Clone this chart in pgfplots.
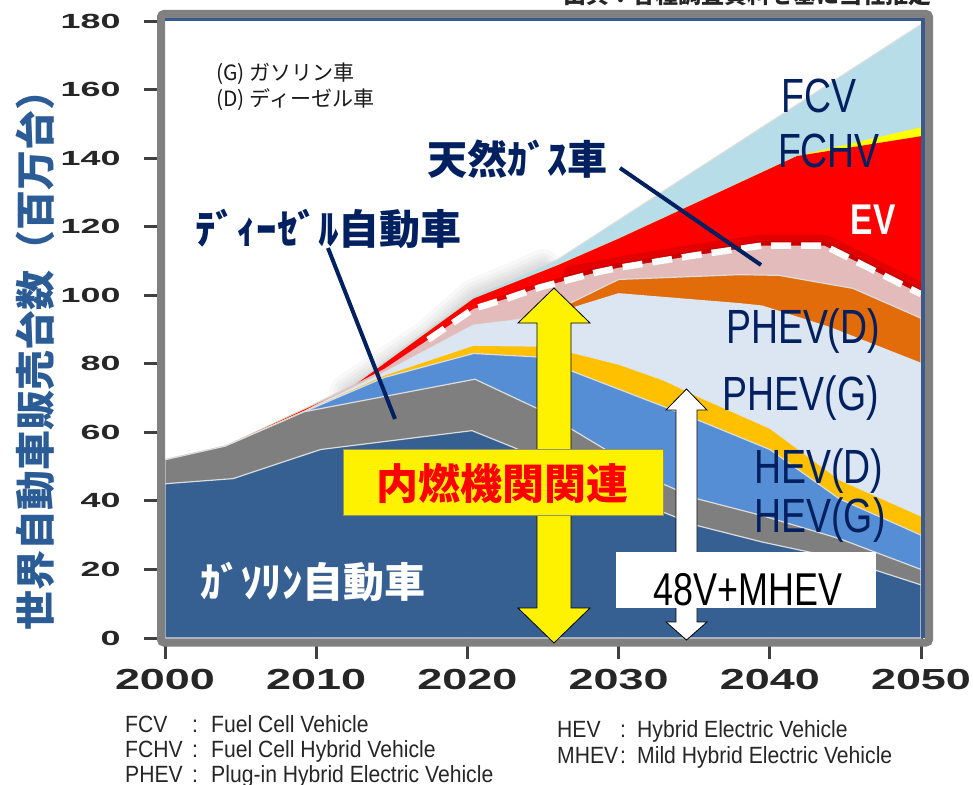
\documentclass[border=0pt]{standalone}
\usepackage{pgfplots}
\pgfplotsset{compat=1.18}
\usepackage{fontspec}
\setmainfont{Liberation Sans}
\newfontfamily\jp{Noto Sans CJK JP}
\newfontfamily\cond[FakeStretch=0.78]{Liberation Sans}
\newfontfamily\notef[FakeStretch=0.9]{Liberation Sans}
\newfontfamily\ytf[FakeStretch=1.75]{Liberation Sans}
\newfontfamily\xtf[FakeStretch=1.55]{Liberation Sans}
\newcommand\fs[1]{\fontsize{#1bp}{#1bp}\selectfont}
\definecolor{cFCV}{HTML}{B7DDE8}
\definecolor{cFCHV}{HTML}{FFFF00}
\definecolor{cEV}{HTML}{FF0000}
\definecolor{cNG}{HTML}{E4BBBB}
\definecolor{cPD}{HTML}{E36C0A}
\definecolor{cPG}{HTML}{DCE6F2}
\definecolor{cHD}{HTML}{FFC000}
\definecolor{cHG}{HTML}{558ED5}
\definecolor{cDI}{HTML}{7F7F7F}
\definecolor{cGA}{HTML}{376092}
\definecolor{cLine}{HTML}{DCDCDC}
\definecolor{navy}{HTML}{002060}
\definecolor{ylab}{HTML}{2B5C95}
\definecolor{frameGray}{HTML}{808080}
\definecolor{frameBlue}{HTML}{3A5A8C}
\pgfplotsset{glow/.style={draw=black, opacity=0.028, line width=#1, line cap=round, line join=round}}
\begin{document}
\begin{tikzpicture}
\begin{axis}[
  at={(165bp,-638bp)}, anchor=south west,
  scale only axis, width=756bp, height=617bp,
  xmin=2000, xmax=2050, ymin=0, ymax=180,
  axis line style={draw=none},
  xtick={2000,2010,2020,2030,2040,2050},
  xticklabels={2000,2010,2020,2030,2040,2050},
  ytick={0,20,40,60,80,100,120,140,160,180},
  yticklabels={0,20,40,60,80,100,120,140,160,180},
  xtick pos=bottom, ytick pos=left,
  tick align=outside,
  major tick length=21bp,
  tick style={line width=3bp, color=black!75},
  xticklabel style={font=\xtf\bfseries\fs{29}, text=black!85, yshift=-7bp},
  yticklabel style={font=\ytf\bfseries\fs{20.5}, text=black!85, xshift=-20bp},
]
% soft shadow along the top envelope
\addplot[glow=34bp] coordinates {(2012,72) (2014,78) (2017.4,88) (2020.4,99.8) (2023,104.6) (2025,108.5)};
\addplot[glow=26bp] coordinates {(2012,72) (2014,78) (2017.4,88) (2020.4,99.8) (2023,104.6) (2025,108.5)};
\addplot[glow=19bp] coordinates {(2012,72) (2014,78) (2017.4,88) (2020.4,99.8) (2023,104.6) (2025,108.5)};
\addplot[glow=13bp] coordinates {(2012,72) (2014,78) (2017.4,88) (2020.4,99.8) (2023,104.6) (2025,108.5)};
\addplot[glow=8bp] coordinates {(2012,72) (2014,78) (2017.4,88) (2020.4,99.8) (2023,104.6) (2025,108.5)};
% FCV
\addplot[fill=cFCV, draw=cLine, line width=1.2bp] coordinates {(2000,52) (2004,56) (2009.2,66.8) (2012.3,73.5) (2020.4,99.8) (2026,110.5) (2050,179)} \closedcycle;
% FCHV
\addplot[fill=cFCHV, draw=none] coordinates {(2000,52) (2004,56) (2009.2,66.6) (2012.3,73) (2020.4,99) (2026,108.8) (2030,116.5) (2035.4,127.5) (2041.8,140.6) (2050,149)} \closedcycle;
% EV
\addplot[fill=cEV, draw=none] coordinates {(2000,52) (2004,56) (2009.2,66.6) (2012.3,73) (2020.4,99) (2026,108.8) (2030,116.5) (2035.4,127.5) (2041.8,140.6) (2050,146.4)} \closedcycle;
% dark red glow above natural gas
\addplot[draw=red!55!black, opacity=0.25, line width=22bp, line join=round, line cap=round] coordinates {(2027,105.5) (2028.6,106.7) (2030,108) (2035,111.6) (2039.5,114.5) (2043.6,114.5) (2050,100.3)};
\addplot[draw=red!55!black, opacity=0.3, line width=9bp, line join=round, line cap=round] coordinates {(2022,98) (2024.8,102.3) (2028.6,106.7) (2030,108) (2035,111.6) (2039.5,114.5) (2043.6,114.5) (2050,100.3)};
% natural gas
\addplot[fill=cNG, draw=none] coordinates {(2000,52) (2004,56) (2009.2,66.3) (2014.5,78.5) (2017.4,87) (2020.4,96) (2022.6,99) (2024.8,102.3) (2028.6,106.7) (2030,108) (2035,111.6) (2039.5,114.5) (2043.6,114.5) (2050,100.3)} \closedcycle;
% PHEV(D)
\addplot[fill=cPD, draw=cLine, line width=1.2bp] coordinates {(2000,52) (2004,56) (2009.2,66) (2014.5,77.5) (2020.4,91.3) (2025,93.8) (2030,104.6) (2038,106) (2040.6,105.8) (2045.5,102) (2050,93.3)} \closedcycle;
% PHEV(G)
\addplot[fill=cPG, draw=none] coordinates {(2000,52) (2004,56) (2009.2,66) (2014.5,77.5) (2020.4,91.3) (2025,93.8) (2030,100.6) (2038,97.7) (2039.5,97) (2044,90.7) (2050,80.3)} \closedcycle;
% HEV(D)
\addplot[fill=cHD, draw=none] coordinates {(2000,52) (2004,56) (2009.2,66) (2014.5,76.5) (2020.4,85.2) (2024.6,85) (2027,83) (2030,79.7) (2033,75) (2035.4,70) (2040,61) (2044.6,46) (2050,35.4)} \closedcycle;
% HEV(G)
\addplot[fill=cHG, draw=cLine, line width=1.2bp] coordinates {(2000,52) (2004,56) (2009.2,66) (2014.5,76) (2020.4,83) (2024.6,82) (2027,77.7) (2033,67.5) (2035.4,63.3) (2040,55) (2044.6,40.6) (2050,30)} \closedcycle;
% Diesel
\addplot[fill=cDI, draw=cLine, line width=1.2bp] coordinates {(2000,52) (2004,56) (2009.2,66) (2020.5,75.5) (2024.6,67) (2032.9,45) (2035.2,40.6) (2039.5,35.7) (2044.6,29) (2050,20)} \closedcycle;
% Gasoline
\addplot[fill=cGA, draw=cLine, line width=1.2bp] coordinates {(2000,45) (2004.5,46.5) (2010.3,55) (2020.3,60.5) (2023,55.7) (2032.9,36.8) (2035.2,32.8) (2039.5,28) (2044.6,23.2) (2050,15.5)} \closedcycle;
% dashed boundary of natural gas
\addplot[draw=white, line width=6.5bp, dash pattern=on 20bp off 10bp] coordinates {(2017.4,87) (2020.4,96) (2022.6,99) (2024.8,102.3) (2028.6,106.7) (2030,108) (2035,111.6) (2039.5,114.5) (2043.6,114.5) (2050,100.3)};
\end{axis}
\begin{scope}[x=1bp,y=-1bp]
% frame
\draw[frameGray, line width=8bp, rounded corners=3bp] (161,14) rectangle (929,642.5);
\draw[frameBlue, line width=3.5bp] (165,19.5) -- (923,19.5) -- (923,638);
% leader lines
\draw[navy, line width=4bp] (620,168) -- (761,265);
\draw[navy, line width=4bp] (328,248) -- (395,419);
% yellow double arrow
\draw[fill=yellow, draw=black, line width=0.8bp] (554,288) -- (590,323) -- (571,323) -- (571,608) -- (590,608) -- (554,643) -- (518,608) -- (537,608) -- (537,323) -- (518,323) -- cycle;
% white double arrow
\draw[fill=white, draw=black, line width=0.8bp] (686.5,389) -- (707,410) -- (697,410) -- (697,622) -- (707,622) -- (686.5,640) -- (666,622) -- (676,622) -- (676,410) -- (666,410) -- cycle;
% boxes
\draw[fill=yellow, draw=black!45!yellow!70!gray, line width=1bp] (343,449) rectangle (663,515);
\fill[white] (616,552) rectangle (876,608);
% box texts
\node[anchor=base, inner sep=0, font=\jp\bfseries\fs{42}, text=red] at (503,499) {内燃機関関連};
\node[anchor=base, inner sep=0, font=\cond\fs{46}, text=black] at (748,605) {48V+MHEV};
% series labels
\node[anchor=base, inner sep=0, font=\cond\fs{48}, text=navy] at (819,112) {FCV};
\node[anchor=base, inner sep=0, font=\cond\fs{48}, text=navy] at (829,167) {FCHV};
\node[anchor=base, inner sep=0, font=\cond\bfseries\fs{43}, text=white] at (873,234) {EV};
\node[anchor=base, inner sep=0, font=\cond\fs{48}, text=navy] at (803,343) {PHEV(D)};
\node[anchor=base, inner sep=0, font=\cond\fs{48}, text=navy] at (801,410) {PHEV(G)};
\node[anchor=base, inner sep=0, font=\cond\fs{48}, text=navy] at (819,483) {HEV(D)};
\node[anchor=base, inner sep=0, font=\cond\fs{48}, text=navy] at (820,532) {HEV(G)};
% japanese annotations
\node[anchor=base, inner sep=0, font=\jp\bfseries\fs{40}, text=navy] at (517,174) {天然ｶﾞｽ車};
\node[anchor=base west, inner sep=0, font=\jp\bfseries\fs{41}, text=navy] at (195,244) {ﾃﾞｨｰｾﾞﾙ自動車};
\node[anchor=base west, inner sep=0, font=\jp\bfseries\fs{41}, text=white] at (200,597) {ｶﾞｿﾘﾝ自動車};
\node[anchor=base west, inner sep=0, font=\jp\fs{21}, text=black!90] at (216,80) {(G) ガソリン車};
\node[anchor=base west, inner sep=0, font=\jp\fs{21}, text=black!90] at (216,106) {(D) ディーゼル車};
% y label
\node[rotate=90, inner sep=0, font=\jp\bfseries\fs{40}, text=ylab] at (35,350) {世界自動車販売台数（百万台）};
% top clipped source note
\node[anchor=base west, inner sep=0, font=\jp\bfseries\fs{23}, text=black!85] at (563,3) {出典：各種調査資料を基に当社推定};
% footnotes
\begin{scope}[every node/.style={anchor=base west, inner sep=0, font=\notef\fs{23.5}, text=black!85}]
\node at (125,732) {FCV};  \node at (192,732) {:}; \node at (211,732) {Fuel Cell Vehicle};
\node at (125,757) {FCHV}; \node at (192,757) {:}; \node at (211,757) {Fuel Cell Hybrid Vehicle};
\node at (125,782) {PHEV}; \node at (192,782) {:}; \node at (211,782) {Plug-in Hybrid Electric Vehicle};
\node at (557,737) {HEV};  \node at (620,737) {:}; \node at (637,737) {Hybrid Electric Vehicle};
\node at (557,763) {MHEV}; \node at (620,763) {:}; \node at (637,763) {Mild Hybrid Electric Vehicle};
\end{scope}
\end{scope}
\pgfresetboundingbox
\useasboundingbox (0,0) rectangle (973bp,-785bp);
\end{tikzpicture}
\end{document}
